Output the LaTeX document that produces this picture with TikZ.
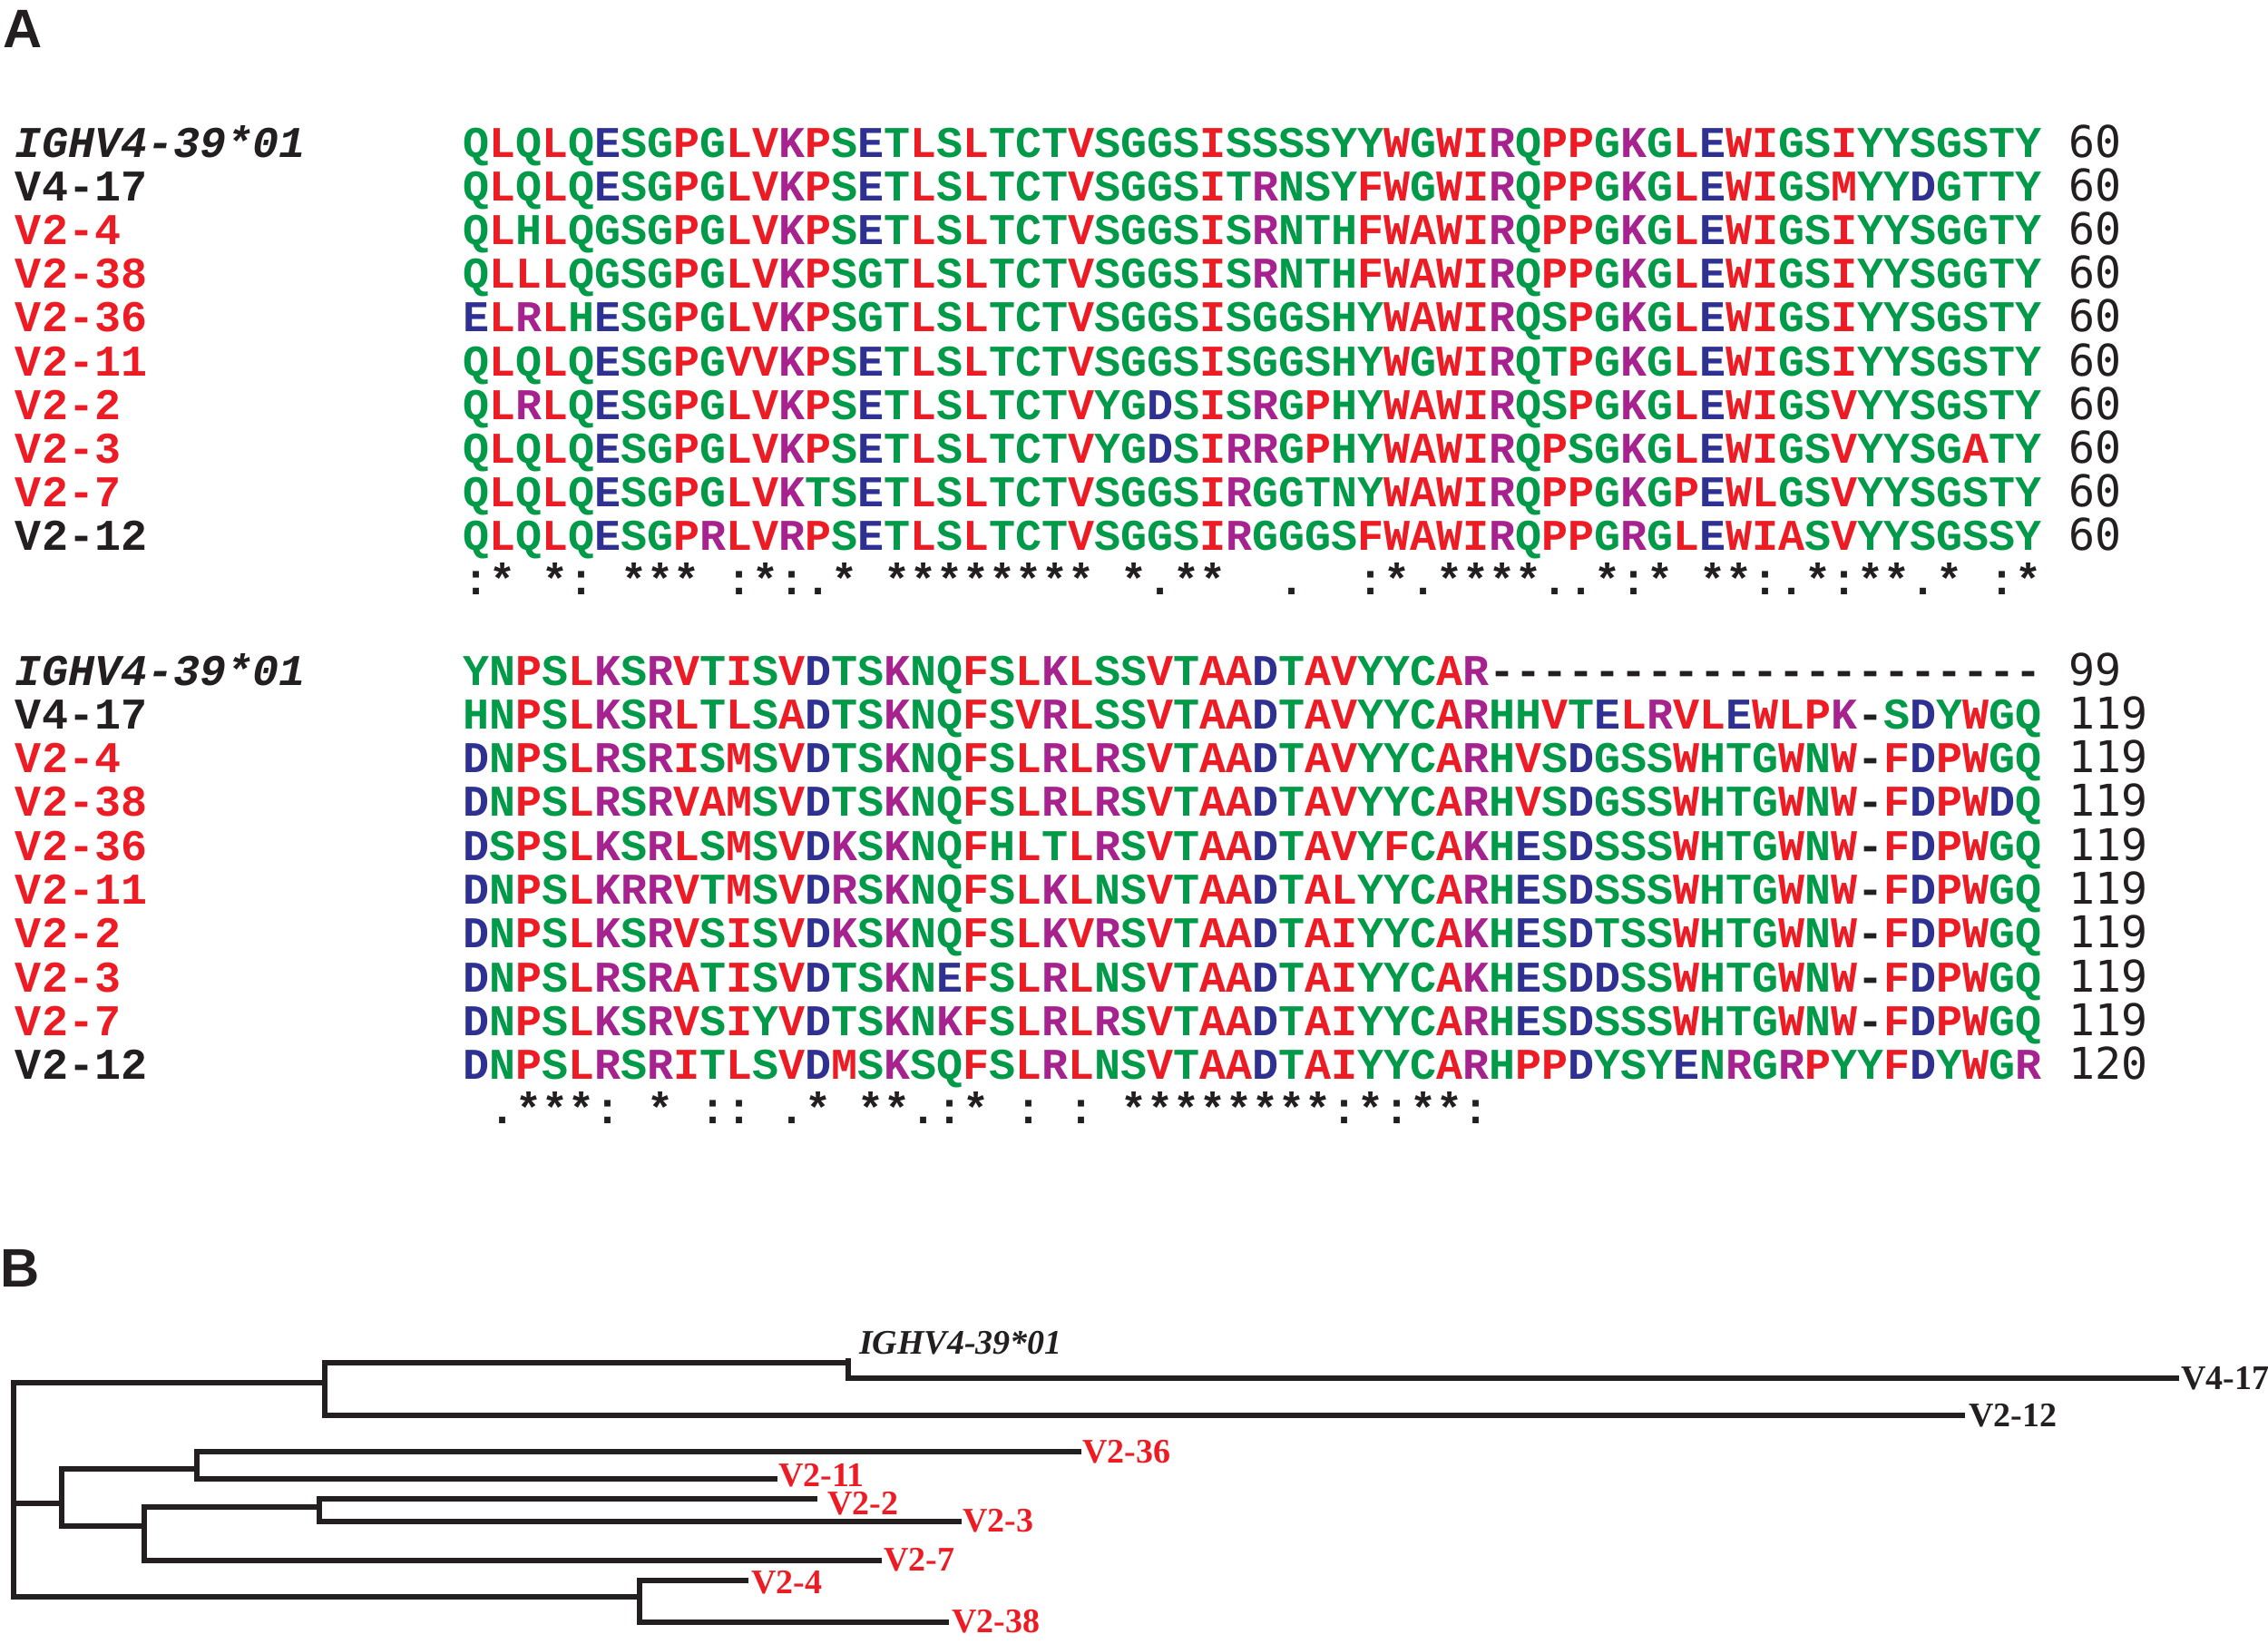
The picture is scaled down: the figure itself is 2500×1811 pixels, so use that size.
\documentclass[tikz,border=0pt]{standalone}
\usepackage{fontspec}
\newfontfamily\seqfont{Liberation Mono}
\newfontfamily\numfont{DejaVu Sans Mono}
\newfontfamily\treefont{Liberation Serif}
\newfontfamily\hdrfont{Liberation Sans}
\definecolor{cR}{HTML}{ED1C24}
\definecolor{cG}{HTML}{009A49}
\definecolor{cB}{HTML}{2E3192}
\definecolor{cM}{HTML}{A6228E}
\definecolor{cK}{HTML}{231F20}
\newlength\charw
\setlength\charw{0.29cm}
\def\setcol#1#2{\expandafter\def\csname rc#1\endcsname{#2}}
\setcol A{cR}\setcol V{cR}\setcol F{cR}\setcol P{cR}\setcol M{cR}\setcol I{cR}\setcol L{cR}\setcol W{cR}
\setcol D{cB}\setcol E{cB}
\setcol R{cM}\setcol K{cM}
\setcol S{cG}\setcol T{cG}\setcol Y{cG}\setcol H{cG}\setcol C{cG}\setcol N{cG}\setcol G{cG}\setcol Q{cG}
\def\rescol#1{\hbox to\charw{\hss\ifx#1x\else\ifcsname rc#1\endcsname\textcolor{\csname rc#1\endcsname}{#1}\else #1\fi\fi\hss}}
\def\sqloop#1{\ifx#1\relax\else\rescol{#1}\expandafter\sqloop\fi}
\def\plloop#1{\ifx#1\relax\else\hbox to\charw{\hss#1\hss}\expandafter\plloop\fi}
\newcommand\alrow[6]{%
  \node[lab,#3] (l#1) at (17,#2) {\plloop#4\relax};
  \node[seqn] (s#1) at (510,#2) {\sqloop#5\relax};
  \node[num] (n#1) at (2280,#2) {\plloop#6\relax};}
\begin{document}
\begin{tikzpicture}[x=0.01cm,y=-0.01cm,
  base/.style={anchor=base west,inner sep=0pt,outer sep=0pt},
  lab/.style={base,font=\seqfont\bfseries\fontsize{13.75pt}{14pt}\selectfont,text=cK},
  redlab/.style={text=cR},
  itlab/.style={font=\seqfont\bfseries\itshape\fontsize{13.75pt}{14pt}\selectfont},
  seqn/.style={base,font=\seqfont\bfseries\fontsize{13.75pt}{14pt}\selectfont,text=cK},
  num/.style={base,font=\numfont\fontsize{13.7pt}{14pt}\selectfont,text=cK},
  hdr/.style={base,font=\hdrfont\bfseries\fontsize{17pt}{18pt}\selectfont,text=cK},
  tlab/.style={base,font=\treefont\bfseries\fontsize{10.8pt}{11pt}\selectfont,text=cK},
  br/.style={line width=0.065cm,draw=cK}]
\useasboundingbox (0,0) rectangle (2500,1811);
\fill[white] (0,0) rectangle (2500,1811);
\node[hdr] (hA) at (4,52) {A};
\node[hdr] (hB) at (1,1418) {B};
% block 1
\alrow{a1}{173}{itlab}{IGHV4-39*01}{QLQLQESGPGLVKPSETLSLTCTVSGGSISSSSYYWGWIRQPPGKGLEWIGSIYYSGSTY}{60}
\alrow{a2}{221.2}{}{V4-17}{QLQLQESGPGLVKPSETLSLTCTVSGGSITRNSYFWGWIRQPPGKGLEWIGSMYYDGTTY}{60}
\alrow{a3}{269.4}{redlab}{V2-4}{QLHLQGSGPGLVKPSETLSLTCTVSGGSISRNTHFWAWIRQPPGKGLEWIGSIYYSGGTY}{60}
\alrow{a4}{317.6}{redlab}{V2-38}{QLLLQGSGPGLVKPSGTLSLTCTVSGGSISRNTHFWAWIRQPPGKGLEWIGSIYYSGGTY}{60}
\alrow{a5}{365.8}{redlab}{V2-36}{ELRLHESGPGLVKPSGTLSLTCTVSGGSISGGSHYWAWIRQSPGKGLEWIGSIYYSGSTY}{60}
\alrow{a6}{414}{redlab}{V2-11}{QLQLQESGPGVVKPSETLSLTCTVSGGSISGGSHYWGWIRQTPGKGLEWIGSIYYSGSTY}{60}
\alrow{a7}{462.2}{redlab}{V2-2}{QLRLQESGPGLVKPSETLSLTCTVYGDSISRGPHYWAWIRQSPGKGLEWIGSVYYSGSTY}{60}
\alrow{a8}{510.4}{redlab}{V2-3}{QLQLQESGPGLVKPSETLSLTCTVYGDSIRRGPHYWAWIRQPSGKGLEWIGSVYYSGATY}{60}
\alrow{a9}{558.6}{redlab}{V2-7}{QLQLQESGPGLVKTSETLSLTCTVSGGSIRGGTNYWAWIRQPPGKGPEWLGSVYYSGSTY}{60}
\alrow{a10}{606.8}{}{V2-12}{QLQLQESGPRLVRPSETLSLTCTVSGGSIRGGGSFWAWIRQPPGRGLEWIASVYYSGSSY}{60}
\node[seqn] (ca) at (510,655) {\sqloop:*x*:x***x:*:.*x********x*.**xx.xx:*.****..*:*x**:.*:**.*x:*\relax};
% block 2
\alrow{b1}{755}{itlab}{IGHV4-39*01}{YNPSLKSRVTISVDTSKNQFSLKLSSVTAADTAVYYCAR---------------------}{99}
\alrow{b2}{803.3}{}{V4-17}{HNPSLKSRLTLSADTSKNQFSVRLSSVTAADTAVYYCARHHVTELRVLEWLPK-SDYWGQ}{119}
\alrow{b3}{851.6}{redlab}{V2-4}{DNPSLRSRISMSVDTSKNQFSLRLRSVTAADTAVYYCARHVSDGSSWHTGWNW-FDPWGQ}{119}
\alrow{b4}{899.9}{redlab}{V2-38}{DNPSLRSRVAMSVDTSKNQFSLRLRSVTAADTAVYYCARHVSDGSSWHTGWNW-FDPWDQ}{119}
\alrow{b5}{948.2}{redlab}{V2-36}{DSPSLKSRLSMSVDKSKNQFHLTLRSVTAADTAVYFCAKHESDSSSWHTGWNW-FDPWGQ}{119}
\alrow{b6}{996.5}{redlab}{V2-11}{DNPSLKRRVTMSVDRSKNQFSLKLNSVTAADTALYYCARHESDSSSWHTGWNW-FDPWGQ}{119}
\alrow{b7}{1044.8}{redlab}{V2-2}{DNPSLKSRVSISVDKSKNQFSLKVRSVTAADTAIYYCAKHESDTSSWHTGWNW-FDPWGQ}{119}
\alrow{b8}{1093.1}{redlab}{V2-3}{DNPSLRSRATISVDTSKNEFSLRLNSVTAADTAIYYCAKHESDDSSWHTGWNW-FDPWGQ}{119}
\alrow{b9}{1141.4}{redlab}{V2-7}{DNPSLKSRVSIYVDTSKNKFSLRLRSVTAADTAIYYCARHESDSSSWHTGWNW-FDPWGQ}{119}
\alrow{b10}{1189.7}{}{V2-12}{DNPSLRSRITLSVDMSKSQFSLRLNSVTAADTAIYYCARHPPDYSYENRGRPYYFDYWGR}{120}
\node[seqn] (cb) at (510,1238) {\sqloop x.***:x*x::x.*x**.:*x:x:x********:*:**:\relax};
% tree
\coordinate (root) at (15,1524);
\coordinate (nA) at (358,1524);
\coordinate (nIG) at (935,1502);
\coordinate (eIG) at (935,1497);
\coordinate (e417) at (2402,1519);
\coordinate (e212) at (2166,1560);
\coordinate (nB) at (68,1657);
\coordinate (nC) at (217,1619);
\coordinate (e236) at (1192,1600);
\coordinate (e211) at (857,1630);
\coordinate (nD) at (159,1682);
\coordinate (nE) at (352,1661);
\coordinate (e22) at (901,1652);
\coordinate (e23) at (1060,1677);
\coordinate (e27) at (972,1720);
\coordinate (nF) at (705,1760);
\coordinate (e24) at (825,1742);
\coordinate (e238) at (1046,1788);
\draw[br] (nA) -| (root) |- (nF);
\draw[br] (root |- nB) -- (nB);
\draw[br] (nIG) -| (nA) |- (e212);
\draw[br] (eIG) |- (e417);
\draw[br] (nC) -| (nB) |- (nD);
\draw[br] (e236) -| (nC) |- (e211);
\draw[br] (nE) -| (nD) |- (e27);
\draw[br] (e22) -| (nE) |- (e23);
\draw[br] (e24) -| (nF) |- (e238);
\node[tlab] (tIG) at (947,1492) {\itshape IGHV4-39*01};
\node[tlab] (t417) at (2404,1531) {V4-17};
\node[tlab] (t212) at (2170,1572) {V2-12};
\node[tlab,text=cR] (t236) at (1193,1612.6) {V2-36};
\node[tlab,text=cR] (t211) at (858,1638) {V2-11};
\node[tlab,text=cR] (t22) at (912,1669) {V2-2};
\node[tlab,text=cR] (t23) at (1061,1688) {V2-3};
\node[tlab,text=cR] (t27) at (974,1731) {V2-7};
\node[tlab,text=cR] (t24) at (828,1756) {V2-4};
\node[tlab,text=cR] (t238) at (1049,1799) {V2-38};
\end{tikzpicture}
\end{document}
